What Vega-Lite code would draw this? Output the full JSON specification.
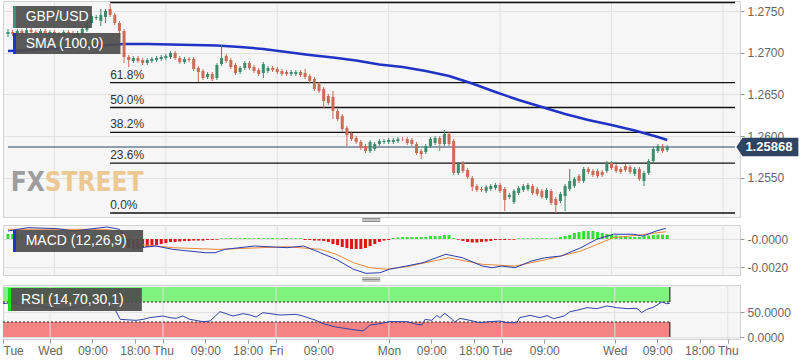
{
"$schema":"https://vega.github.io/schema/vega-lite/v6.json",
"padding":0,
"autosize":{"type":"pad"},
"background":"#ffffff",
"bounds":"flush",
"spacing":8,
"config":{"font":"Liberation Sans","view":{"stroke":"#d2d2d2","fill":"#f6f6f6"},"axis":{"labelFont":"Liberation Sans","labelFontSize":12,"labelColor":"#666666","tickColor":"#9a9a9a","domain":false,"gridColor":"#e1e1e1"}},
"datasets":{
"candles":[
{"t":-10,"o":1.27224,"h":1.27284,"l":1.27188,"c":1.27248,"m":0.00036},
{"t":-9,"o":1.27248,"h":1.27272,"l":1.272,"c":1.27224,"m":0.00036},
{"t":-8,"o":1.27224,"h":1.27284,"l":1.272,"c":1.2726,"m":0.00036},
{"t":-7,"o":1.2726,"h":1.27284,"l":1.27212,"c":1.27236,"m":0.00029},
{"t":-6,"o":1.27236,"h":1.27296,"l":1.27212,"c":1.27272,"m":0.00021},
{"t":-5,"o":1.27272,"h":1.27296,"l":1.27224,"c":1.27248,"m":0.00014},
{"t":-4,"o":1.27248,"h":1.27272,"l":1.272,"c":1.27224,"m":0.00014},
{"t":-3,"o":1.27224,"h":1.27284,"l":1.272,"c":1.2726,"m":0.00007},
{"t":-2,"o":1.2726,"h":1.27284,"l":1.27212,"c":1.27236,"m":0.00007},
{"t":-1,"o":1.27236,"h":1.27272,"l":1.27212,"c":1.27248,"m":0.00007},
{"t":0,"o":1.27248,"h":1.27272,"l":1.272,"c":1.27224,"m":0.00007},
{"t":1,"o":1.27224,"h":1.27248,"l":1.27188,"c":1.27212,"m":0.00004},
{"t":2,"o":1.27212,"h":1.27272,"l":1.27188,"c":1.27248,"m":0.00004},
{"t":3,"o":1.27248,"h":1.27272,"l":1.27212,"c":1.27236,"m":0.00004},
{"t":4,"o":1.27236,"h":1.2726,"l":1.27176,"c":1.272,"m":0.00004},
{"t":5,"o":1.272,"h":1.2726,"l":1.27176,"c":1.27236,"m":0.00007},
{"t":6,"o":1.27224,"h":1.27308,"l":1.272,"c":1.27284,"m":0.00014},
{"t":7,"o":1.27272,"h":1.2738,"l":1.27248,"c":1.27356,"m":0.00021},
{"t":8,"o":1.27356,"h":1.27464,"l":1.27332,"c":1.2744,"m":0.00029},
{"t":9,"o":1.27416,"h":1.27452,"l":1.27392,"c":1.27428,"m":0.00036},
{"t":10,"o":1.2738,"h":1.27524,"l":1.2732,"c":1.27452,"m":0.00036},
{"t":11,"o":1.27428,"h":1.27524,"l":1.27356,"c":1.275,"m":0.00036},
{"t":12,"o":1.27524,"h":1.27584,"l":1.27428,"c":1.27452,"m":0.00029},
{"t":13,"o":1.27452,"h":1.27476,"l":1.27332,"c":1.27356,"m":0.00014},
{"t":14,"o":1.27356,"h":1.2738,"l":1.27188,"c":1.2726,"m":-0.00007},
{"t":15,"o":1.2726,"h":1.27284,"l":1.26876,"c":1.26948,"m":-0.00043},
{"t":16,"o":1.26948,"h":1.26972,"l":1.26828,"c":1.26912,"m":-0.00064},
{"t":17,"o":1.269,"h":1.2696,"l":1.26876,"c":1.26936,"m":-0.00071},
{"t":18,"o":1.26936,"h":1.2696,"l":1.26876,"c":1.269,"m":-0.00071},
{"t":19,"o":1.26912,"h":1.26936,"l":1.26852,"c":1.26876,"m":-0.00064},
{"t":20,"o":1.26876,"h":1.26936,"l":1.26852,"c":1.26912,"m":-0.00057},
{"t":21,"o":1.269,"h":1.26948,"l":1.26876,"c":1.26924,"m":-0.0005},
{"t":22,"o":1.26912,"h":1.2696,"l":1.26888,"c":1.26936,"m":-0.00043},
{"t":23,"o":1.26924,"h":1.26972,"l":1.269,"c":1.26948,"m":-0.00036},
{"t":24,"o":1.26936,"h":1.26984,"l":1.26912,"c":1.2696,"m":-0.00029},
{"t":25,"o":1.26948,"h":1.2702,"l":1.26924,"c":1.26996,"m":-0.00021},
{"t":26,"o":1.26996,"h":1.2702,"l":1.26912,"c":1.26936,"m":-0.00021},
{"t":27,"o":1.26936,"h":1.2696,"l":1.26864,"c":1.26888,"m":-0.00018},
{"t":28,"o":1.26888,"h":1.26948,"l":1.26864,"c":1.26924,"m":-0.00014},
{"t":29,"o":1.26924,"h":1.26948,"l":1.26888,"c":1.26912,"m":-0.00014},
{"t":30,"o":1.26924,"h":1.26948,"l":1.2678,"c":1.26804,"m":-0.00011},
{"t":31,"o":1.26816,"h":1.2684,"l":1.26648,"c":1.26768,"m":-0.00011},
{"t":32,"o":1.2678,"h":1.26804,"l":1.26672,"c":1.26696,"m":-0.00011},
{"t":33,"o":1.26708,"h":1.26768,"l":1.26684,"c":1.26744,"m":-0.00007},
{"t":34,"o":1.26744,"h":1.26768,"l":1.2666,"c":1.26684,"m":-0.00007},
{"t":35,"o":1.26696,"h":1.26876,"l":1.26672,"c":1.26852,"m":-0.00005},
{"t":36,"o":1.26864,"h":1.27092,"l":1.2684,"c":1.26936,"m":0.00005},
{"t":37,"o":1.2696,"h":1.26984,"l":1.26876,"c":1.269,"m":0.00005},
{"t":38,"o":1.26912,"h":1.26936,"l":1.26804,"c":1.26828,"m":0.00007},
{"t":39,"o":1.26852,"h":1.26876,"l":1.26732,"c":1.26756,"m":0.00005},
{"t":40,"o":1.26768,"h":1.2684,"l":1.26744,"c":1.26816,"m":0.00005},
{"t":41,"o":1.26816,"h":1.269,"l":1.26792,"c":1.26876,"m":0.00007},
{"t":42,"o":1.26876,"h":1.269,"l":1.26792,"c":1.26816,"m":0.00005},
{"t":43,"o":1.26828,"h":1.26852,"l":1.26756,"c":1.2678,"m":0.00005},
{"t":44,"o":1.26792,"h":1.26816,"l":1.2672,"c":1.26744,"m":0.00007},
{"t":45,"o":1.26756,"h":1.26888,"l":1.26696,"c":1.26864,"m":0.00005},
{"t":46,"o":1.2678,"h":1.2684,"l":1.26756,"c":1.26816,"m":0.00005},
{"t":47,"o":1.26816,"h":1.2684,"l":1.26768,"c":1.26792,"m":0.00007},
{"t":48,"o":1.26804,"h":1.26828,"l":1.26744,"c":1.26768,"m":0.00005},
{"t":49,"o":1.2678,"h":1.26804,"l":1.2672,"c":1.26744,"m":0.00005},
{"t":50,"o":1.26768,"h":1.26792,"l":1.2672,"c":1.26744,"m":0.00007},
{"t":51,"o":1.26744,"h":1.26792,"l":1.2672,"c":1.26768,"m":0.00005},
{"t":52,"o":1.26744,"h":1.26792,"l":1.2672,"c":1.26768,"m":0.00005},
{"t":53,"o":1.26768,"h":1.26792,"l":1.26708,"c":1.26732,"m":0.00005},
{"t":54,"o":1.26756,"h":1.26804,"l":1.26684,"c":1.26708,"m":-0.00007},
{"t":55,"o":1.2672,"h":1.26744,"l":1.26636,"c":1.2666,"m":-0.00007},
{"t":56,"o":1.26684,"h":1.26708,"l":1.2654,"c":1.26564,"m":-0.00011},
{"t":57,"o":1.26624,"h":1.26648,"l":1.26516,"c":1.2654,"m":-0.00011},
{"t":58,"o":1.26564,"h":1.26588,"l":1.26336,"c":1.2642,"m":-0.00014},
{"t":59,"o":1.2648,"h":1.26504,"l":1.26372,"c":1.26396,"m":-0.00021},
{"t":60,"o":1.26468,"h":1.2654,"l":1.26204,"c":1.263,"m":-0.00036},
{"t":61,"o":1.263,"h":1.26324,"l":1.2618,"c":1.26204,"m":-0.00043},
{"t":62,"o":1.2624,"h":1.26264,"l":1.2606,"c":1.26084,"m":-0.00057},
{"t":63,"o":1.26096,"h":1.2612,"l":1.2588,"c":1.26012,"m":-0.00064},
{"t":64,"o":1.26036,"h":1.2606,"l":1.2594,"c":1.25964,"m":-0.00071},
{"t":65,"o":1.25976,"h":1.26,"l":1.25904,"c":1.25928,"m":-0.00071},
{"t":66,"o":1.25928,"h":1.25952,"l":1.25832,"c":1.25856,"m":-0.00071},
{"t":67,"o":1.2588,"h":1.25904,"l":1.25796,"c":1.2582,"m":-0.00064},
{"t":68,"o":1.2582,"h":1.25952,"l":1.25796,"c":1.25928,"m":-0.0005},
{"t":69,"o":1.25844,"h":1.25928,"l":1.2582,"c":1.25904,"m":-0.00036},
{"t":70,"o":1.25904,"h":1.25964,"l":1.2588,"c":1.2594,"m":-0.00021},
{"t":71,"o":1.25928,"h":1.25964,"l":1.25904,"c":1.2594,"m":-0.00011},
{"t":72,"o":1.25928,"h":1.25976,"l":1.25904,"c":1.25952,"m":-0.00007},
{"t":73,"o":1.25928,"h":1.25976,"l":1.25904,"c":1.25952,"m":0.00007},
{"t":74,"o":1.2594,"h":1.25988,"l":1.25916,"c":1.25964,"m":0.00011},
{"t":75,"o":1.25964,"h":1.25988,"l":1.2594,"c":1.2596,"m":0.00014},
{"t":76,"o":1.25964,"h":1.25988,"l":1.25892,"c":1.25916,"m":0.00014},
{"t":77,"o":1.25952,"h":1.25976,"l":1.2588,"c":1.25904,"m":0.00014},
{"t":78,"o":1.25904,"h":1.25928,"l":1.25772,"c":1.25796,"m":0.00014},
{"t":79,"o":1.2582,"h":1.25844,"l":1.25724,"c":1.25784,"m":0.00014},
{"t":80,"o":1.25808,"h":1.25904,"l":1.25784,"c":1.2588,"m":0.00014},
{"t":81,"o":1.2588,"h":1.25988,"l":1.25856,"c":1.25964,"m":0.00021},
{"t":82,"o":1.25916,"h":1.26,"l":1.25892,"c":1.25976,"m":0.00021},
{"t":83,"o":1.25976,"h":1.26,"l":1.2582,"c":1.25904,"m":0.00021},
{"t":84,"o":1.25904,"h":1.26072,"l":1.2588,"c":1.26024,"m":0.00029},
{"t":85,"o":1.26024,"h":1.26048,"l":1.2588,"c":1.25904,"m":0.00029},
{"t":86,"o":1.2594,"h":1.25964,"l":1.25532,"c":1.25556,"m":0.00007},
{"t":87,"o":1.25556,"h":1.25688,"l":1.25532,"c":1.25664,"m":-0.00005},
{"t":88,"o":1.25676,"h":1.257,"l":1.25556,"c":1.2558,"m":-0.00014},
{"t":89,"o":1.25592,"h":1.25616,"l":1.25484,"c":1.25508,"m":-0.00021},
{"t":90,"o":1.25496,"h":1.2552,"l":1.2534,"c":1.25388,"m":-0.00025},
{"t":91,"o":1.254,"h":1.25424,"l":1.25328,"c":1.25352,"m":-0.00025},
{"t":92,"o":1.25364,"h":1.25388,"l":1.25328,"c":1.25352,"m":-0.00021},
{"t":93,"o":1.2534,"h":1.25412,"l":1.25316,"c":1.25388,"m":-0.00018},
{"t":94,"o":1.25364,"h":1.25424,"l":1.2534,"c":1.254,"m":-0.00014},
{"t":95,"o":1.25376,"h":1.25436,"l":1.25352,"c":1.25412,"m":-0.00007},
{"t":96,"o":1.25412,"h":1.25436,"l":1.25316,"c":1.2534,"m":-0.00007},
{"t":97,"o":1.25364,"h":1.25388,"l":1.251,"c":1.25232,"m":-0.00007},
{"t":98,"o":1.25268,"h":1.25316,"l":1.25244,"c":1.25292,"m":-0.00005},
{"t":99,"o":1.25208,"h":1.25364,"l":1.25184,"c":1.2534,"m":-0.00005},
{"t":100,"o":1.25316,"h":1.254,"l":1.25292,"c":1.25376,"m":0.00005},
{"t":101,"o":1.25352,"h":1.25424,"l":1.25328,"c":1.254,"m":0.00005},
{"t":102,"o":1.25364,"h":1.25436,"l":1.2534,"c":1.25412,"m":0.00005},
{"t":103,"o":1.254,"h":1.25424,"l":1.25292,"c":1.25316,"m":0.00005},
{"t":104,"o":1.25364,"h":1.25388,"l":1.2528,"c":1.25304,"m":0.00005},
{"t":105,"o":1.2534,"h":1.25364,"l":1.25244,"c":1.25268,"m":0.00005},
{"t":106,"o":1.25256,"h":1.25376,"l":1.25232,"c":1.25352,"m":0.00005},
{"t":107,"o":1.2534,"h":1.25364,"l":1.25172,"c":1.25196,"m":0.00005},
{"t":108,"o":1.25244,"h":1.25268,"l":1.25076,"c":1.25172,"m":0.00005},
{"t":109,"o":1.2522,"h":1.25328,"l":1.25196,"c":1.25304,"m":0.00014},
{"t":110,"o":1.2528,"h":1.25424,"l":1.251,"c":1.254,"m":0.00021},
{"t":111,"o":1.25364,"h":1.25604,"l":1.2534,"c":1.2546,"m":0.00029},
{"t":112,"o":1.254,"h":1.25508,"l":1.25376,"c":1.25484,"m":0.00043},
{"t":113,"o":1.2552,"h":1.25544,"l":1.25436,"c":1.2546,"m":0.0005},
{"t":114,"o":1.2546,"h":1.25628,"l":1.25436,"c":1.25604,"m":0.00057},
{"t":115,"o":1.25604,"h":1.25628,"l":1.25544,"c":1.25568,"m":0.00057},
{"t":116,"o":1.2558,"h":1.25604,"l":1.25508,"c":1.25532,"m":0.00057},
{"t":117,"o":1.2558,"h":1.25604,"l":1.25496,"c":1.2552,"m":0.0005},
{"t":118,"o":1.25568,"h":1.25592,"l":1.25508,"c":1.25532,"m":0.00043},
{"t":119,"o":1.2558,"h":1.257,"l":1.25556,"c":1.25676,"m":0.00036},
{"t":120,"o":1.25676,"h":1.257,"l":1.25592,"c":1.25616,"m":0.00029},
{"t":121,"o":1.2564,"h":1.25664,"l":1.25556,"c":1.2558,"m":0.00025},
{"t":122,"o":1.25604,"h":1.25628,"l":1.25544,"c":1.25568,"m":0.00021},
{"t":123,"o":1.2564,"h":1.25664,"l":1.25568,"c":1.25592,"m":0.00018},
{"t":124,"o":1.25628,"h":1.25652,"l":1.25544,"c":1.25568,"m":0.00014},
{"t":125,"o":1.25544,"h":1.25628,"l":1.2552,"c":1.25604,"m":0.00014},
{"t":126,"o":1.25604,"h":1.25628,"l":1.2546,"c":1.25484,"m":0.00014},
{"t":127,"o":1.2546,"h":1.2558,"l":1.254,"c":1.25556,"m":0.00021},
{"t":128,"o":1.25556,"h":1.25724,"l":1.25532,"c":1.257,"m":0.00025},
{"t":129,"o":1.257,"h":1.25868,"l":1.25676,"c":1.25844,"m":0.00029},
{"t":130,"o":1.2582,"h":1.25904,"l":1.25796,"c":1.2588,"m":0.00032},
{"t":131,"o":1.2588,"h":1.25904,"l":1.25796,"c":1.2582,"m":0.00032},
{"t":132,"o":1.25832,"h":1.25892,"l":1.25808,"c":1.25868,"m":0.00029}
],
"sma":[
{"t":-10,"v":1.2702},{"t":-5,"v":1.27032},{"t":0,"v":1.2705},{"t":5,"v":1.27068},{"t":10,"v":1.27086},{"t":15,"v":1.27104},{"t":20,"v":1.27104},{"t":25,"v":1.27098},{"t":30,"v":1.27092},{"t":35,"v":1.27086},{"t":40,"v":1.27068},{"t":45,"v":1.27044},{"t":50,"v":1.27008},{"t":55,"v":1.26972},{"t":60,"v":1.26942},{"t":65,"v":1.26906},{"t":70,"v":1.26858},{"t":75,"v":1.26828},{"t":80,"v":1.2678},{"t":85,"v":1.2672},{"t":90,"v":1.2663},{"t":95,"v":1.26528},{"t":100,"v":1.26432},{"t":105,"v":1.26348},{"t":110,"v":1.26264},{"t":115,"v":1.26192},{"t":120,"v":1.26132},{"t":125,"v":1.26066},{"t":130,"v":1.25988},{"t":132,"v":1.25952}
],
"macd":[
{"t":-10,"v":0.00057},{"t":-5.7,"v":0.00081},{"t":0.6,"v":0.00074},{"t":4.2,"v":0.00057},{"t":11.3,"v":0.00086},{"t":14,"v":0.00069},{"t":15.5,"v":-0.00002},{"t":18.3,"v":-0.00062},{"t":21.9,"v":-0.0005},{"t":25.5,"v":-0.00074},{"t":32.5,"v":-0.00098},{"t":34.6,"v":-0.00098},{"t":36.7,"v":-0.00074},{"t":43.1,"v":-0.0005},{"t":50.1,"v":-0.00062},{"t":53.7,"v":-0.0005},{"t":57.3,"v":-0.00098},{"t":60.7,"v":-0.00145},{"t":64.4,"v":-0.00216},{"t":67.1,"v":-0.00245},{"t":70.1,"v":-0.00241},{"t":72.2,"v":-0.00216},{"t":75.8,"v":-0.00193},{"t":79.4,"v":-0.00169},{"t":84.3,"v":-0.00109},{"t":87.9,"v":-0.00134},{"t":92.2,"v":-0.00193},{"t":94.3,"v":-0.00205},{"t":96.4,"v":-0.00193},{"t":99.2,"v":-0.00205},{"t":102.8,"v":-0.00157},{"t":105.6,"v":-0.00134},{"t":109.2,"v":-0.00121},{"t":113.4,"v":-0.00062},{"t":116.8,"v":-0.00002},{"t":120.4,"v":0.00034},{"t":124.7,"v":0.00034},{"t":126.8,"v":0.00021},{"t":129.6,"v":0.00057},{"t":131.7,"v":0.00076}
],
"signal":[
{"t":-10,"v":0.00069},{"t":11.3,"v":0.00069},{"t":14.9,"v":0.00045},{"t":18.3,"v":-0.00038},{"t":25.5,"v":-0.00062},{"t":35.3,"v":-0.00074},{"t":50.1,"v":-0.00055},{"t":57.3,"v":-0.00074},{"t":60.7,"v":-0.00109},{"t":64.4,"v":-0.00169},{"t":68,"v":-0.00205},{"t":71.4,"v":-0.00216},{"t":75.8,"v":-0.00198},{"t":85,"v":-0.00134},{"t":92.2,"v":-0.00181},{"t":99.2,"v":-0.00193},{"t":106.2,"v":-0.00145},{"t":113.4,"v":-0.00086},{"t":120.4,"v":0.00009},{"t":125.3,"v":0.00026},{"t":131.7,"v":0.00052}
],
"rsi":[
{"t":-10,"v":66.7},{"t":-7.9,"v":68.7},{"t":-5.7,"v":62},{"t":-3,"v":62},{"t":0.6,"v":57.3},{"t":2.8,"v":55.3},{"t":6.4,"v":62},{"t":10.6,"v":68.7},{"t":12.7,"v":62},{"t":14,"v":52},{"t":14.9,"v":35.3},{"t":18.3,"v":33.3},{"t":19.8,"v":35.3},{"t":21.2,"v":38.7},{"t":24,"v":42},{"t":25.5,"v":38.7},{"t":26.8,"v":37.3},{"t":28.2,"v":42},{"t":29.7,"v":35.3},{"t":32.5,"v":30.7},{"t":34,"v":32},{"t":36.1,"v":50.7},{"t":38.9,"v":42},{"t":41,"v":46.7},{"t":42.5,"v":44},{"t":43.8,"v":40},{"t":45.2,"v":48.7},{"t":46.7,"v":46.7},{"t":48.9,"v":44},{"t":52.3,"v":45.3},{"t":53.7,"v":42},{"t":56.5,"v":33.3},{"t":58,"v":26.7},{"t":60.7,"v":20},{"t":63.5,"v":16},{"t":66.5,"v":12},{"t":68,"v":24},{"t":70.1,"v":26.7},{"t":72.2,"v":30.7},{"t":75.8,"v":30.7},{"t":78,"v":25.3},{"t":79,"v":24},{"t":79.7,"v":35.3},{"t":81.1,"v":33.3},{"t":82.2,"v":43.3},{"t":82.8,"v":38.7},{"t":83.9,"v":47.3},{"t":85,"v":38.7},{"t":86,"v":30},{"t":87.1,"v":37.3},{"t":89.2,"v":33.3},{"t":91.3,"v":28.7},{"t":93.5,"v":30.7},{"t":95.6,"v":32},{"t":97.1,"v":28.7},{"t":99.2,"v":28.7},{"t":99.8,"v":38.7},{"t":102,"v":43.3},{"t":104.1,"v":38.7},{"t":105.6,"v":42.7},{"t":107,"v":36.7},{"t":109.2,"v":42},{"t":110.5,"v":50.7},{"t":111.9,"v":53.3},{"t":114.1,"v":58.7},{"t":116.2,"v":56.7},{"t":118.3,"v":62},{"t":120.4,"v":58.7},{"t":122.6,"v":56.7},{"t":124.7,"v":57.3},{"t":125.7,"v":48.7},{"t":126.8,"v":55.3},{"t":128.3,"v":60},{"t":130,"v":70},{"t":131,"v":66.7},{"t":131.7,"v":67.3}
],
"days":[{"t":0},{"t":24},{"t":48},{"t":72},{"t":96},{"t":120},{"t":144}],
"fib":[
{"lbl":"","v":1.27602,"t0":12,"t1":146.6},
{"lbl":"61.8%","v":1.2664,"t0":12,"t1":146.6},
{"lbl":"50.0%","v":1.26342,"t0":12,"t1":146.6},
{"lbl":"38.2%","v":1.26044,"t0":12,"t1":146.6},
{"lbl":"23.6%","v":1.25674,"t0":12,"t1":146.6},
{"lbl":"0.0%","v":1.25076,"t0":12,"t1":146.6}
]
},
"vconcat":[
{
"width":737,"height":216,
"layer":[
{"data":{"name":"days"},"mark":{"type":"rule","color":"#e1e1e1"},"encoding":{"x":{"field":"t","type":"quantitative","scale":{"domain":[-10,146.6],"nice":false,"zero":false},"axis":null}}},
{"data":{"name":"fib"},"mark":{"type":"rule","color":"#111111","strokeWidth":1.3},"encoding":{
"x":{"field":"t0","type":"quantitative","scale":{"domain":[-10,146.6],"nice":false,"zero":false},"axis":null},
"x2":{"field":"t1"},
"y":{"field":"v","type":"quantitative","scale":{"domain":[1.25028,1.2762],"nice":false,"zero":false},"axis":{"orient":"right","values":[1.255,1.26,1.265,1.27,1.275],"format":".4f","grid":true,"tickSize":4,"labelPadding":3,"title":null}}}},
{"data":{"name":"fib"},"transform":[{"filter":"datum.lbl != ''"}],"mark":{"type":"text","align":"left","baseline":"bottom","dy":-1,"fontSize":12,"color":"#333333"},"encoding":{
"x":{"field":"t0","type":"quantitative","scale":{"domain":[-10,146.6],"nice":false,"zero":false},"axis":null},
"y":{"field":"v","type":"quantitative","scale":{"domain":[1.25028,1.2762],"nice":false,"zero":false},"axis":{"orient":"right","values":[1.255,1.26,1.265,1.27,1.275],"format":".4f","grid":true,"tickSize":4,"labelPadding":3,"title":null}},
"text":{"field":"lbl"}}},
{"data":{"values":[{"t0":-10,"t1":146.6,"v":1.25868}]},"mark":{"type":"rule","color":"#2e4460","strokeWidth":1},"encoding":{
"x":{"field":"t0","type":"quantitative","scale":{"domain":[-10,146.6],"nice":false,"zero":false},"axis":null},
"x2":{"field":"t1"},
"y":{"field":"v","type":"quantitative","scale":{"domain":[1.25028,1.2762],"nice":false,"zero":false},"axis":{"orient":"right","values":[1.255,1.26,1.265,1.27,1.275],"format":".4f","grid":true,"tickSize":4,"labelPadding":3,"title":null}}}},
{"data":{"name":"sma"},"mark":{"type":"line","color":"#1f33c4","strokeWidth":2.5},"encoding":{
"x":{"field":"t","type":"quantitative","scale":{"domain":[-10,146.6],"nice":false,"zero":false},"axis":null},
"y":{"field":"v","type":"quantitative","scale":{"domain":[1.25028,1.2762],"nice":false,"zero":false},"axis":{"orient":"right","values":[1.255,1.26,1.265,1.27,1.275],"format":".4f","grid":true,"tickSize":4,"labelPadding":3,"title":null}}}},
{"data":{"name":"candles"},"mark":{"type":"rule","strokeWidth":1},"encoding":{
"x":{"field":"t","type":"quantitative","scale":{"domain":[-10,146.6],"nice":false,"zero":false},"axis":null},
"y":{"field":"l","type":"quantitative","scale":{"domain":[1.25028,1.2762],"nice":false,"zero":false},"axis":{"orient":"right","values":[1.255,1.26,1.265,1.27,1.275],"format":".4f","grid":true,"tickSize":4,"labelPadding":3,"title":null}},
"y2":{"field":"h"},
"color":{"condition":{"test":"datum.c >= datum.o","value":"#3d8b6d"},"value":"#cb6a55"}}},
{"data":{"name":"candles"},"mark":{"type":"bar","size":3,"orient":"vertical"},"encoding":{
"x":{"field":"t","type":"quantitative","scale":{"domain":[-10,146.6],"nice":false,"zero":false},"axis":null},
"y":{"field":"o","type":"quantitative","scale":{"domain":[1.25028,1.2762],"nice":false,"zero":false},"axis":{"orient":"right","values":[1.255,1.26,1.265,1.27,1.275],"format":".4f","grid":true,"tickSize":4,"labelPadding":3,"title":null}},
"y2":{"field":"c"},
"color":{"condition":{"test":"datum.c >= datum.o","value":"#3d8b6d"},"value":"#cb6a55"}}},
{"data":{"values":[{"t0":-8.92,"t1":8.07,"v0":1.2756,"v1":1.27296},{"t0":-8.92,"t1":14.23,"v0":1.27236,"v1":1.26984}]},"mark":{"type":"rect","color":"#4d4d4d","opacity":0.93},"encoding":{
"x":{"field":"t0","type":"quantitative","scale":{"domain":[-10,146.6],"nice":false,"zero":false},"axis":null},
"x2":{"field":"t1"},
"y":{"field":"v0","type":"quantitative","scale":{"domain":[1.25028,1.2762],"nice":false,"zero":false},"axis":{"orient":"right","values":[1.255,1.26,1.265,1.27,1.275],"format":".4f","grid":true,"tickSize":4,"labelPadding":3,"title":null}},
"y2":{"field":"v1"}}},
{"data":{"values":[{"t0":-8.92,"t1":-8.28,"v0":1.2756,"v1":1.27296}]},"mark":{"type":"rect","color":"#3f9274"},"encoding":{
"x":{"field":"t0","type":"quantitative","scale":{"domain":[-10,146.6],"nice":false,"zero":false},"axis":null},
"x2":{"field":"t1"},
"y":{"field":"v0","type":"quantitative","scale":{"domain":[1.25028,1.2762],"nice":false,"zero":false},"axis":{"orient":"right","values":[1.255,1.26,1.265,1.27,1.275],"format":".4f","grid":true,"tickSize":4,"labelPadding":3,"title":null}},
"y2":{"field":"v1"}}},
{"data":{"values":[{"t0":-8.92,"t1":-8.28,"v0":1.27236,"v1":1.26984}]},"mark":{"type":"rect","color":"#1f35c8"},"encoding":{
"x":{"field":"t0","type":"quantitative","scale":{"domain":[-10,146.6],"nice":false,"zero":false},"axis":null},
"x2":{"field":"t1"},
"y":{"field":"v0","type":"quantitative","scale":{"domain":[1.25028,1.2762],"nice":false,"zero":false},"axis":{"orient":"right","values":[1.255,1.26,1.265,1.27,1.275],"format":".4f","grid":true,"tickSize":4,"labelPadding":3,"title":null}},
"y2":{"field":"v1"}}},
{"data":{"values":[{"t":-6.2,"v":1.27428,"s":"GBP/USD"},{"t":-6.2,"v":1.2711,"s":"SMA (100,0)"}]},"mark":{"type":"text","align":"left","baseline":"middle","fontSize":14,"color":"#ffffff"},"encoding":{
"x":{"field":"t","type":"quantitative","scale":{"domain":[-10,146.6],"nice":false,"zero":false},"axis":null},
"y":{"field":"v","type":"quantitative","scale":{"domain":[1.25028,1.2762],"nice":false,"zero":false},"axis":{"orient":"right","values":[1.255,1.26,1.265,1.27,1.275],"format":".4f","grid":true,"tickSize":4,"labelPadding":3,"title":null}},
"text":{"field":"s"}}},
{"data":{"values":[{"t":-2.1,"v":1.25436,"s":"FX"}]},"mark":{"type":"text","align":"right","baseline":"middle","fontSize":26,"fontWeight":"bold","font":"Liberation Sans Narrow, DejaVu Sans Condensed, sans-serif","color":"#9d9d9d"},"encoding":{
"x":{"field":"t","type":"quantitative","scale":{"domain":[-10,146.6],"nice":false,"zero":false},"axis":null},
"y":{"field":"v","type":"quantitative","scale":{"domain":[1.25028,1.2762],"nice":false,"zero":false},"axis":{"orient":"right","values":[1.255,1.26,1.265,1.27,1.275],"format":".4f","grid":true,"tickSize":4,"labelPadding":3,"title":null}},
"text":{"field":"s"}}},
{"data":{"values":[{"t":-2.1,"v":1.25436,"s":"STREET"}]},"mark":{"type":"text","align":"left","baseline":"middle","fontSize":26,"fontWeight":"bold","font":"Liberation Sans Narrow, DejaVu Sans Condensed, sans-serif","color":"#ecc893"},"encoding":{
"x":{"field":"t","type":"quantitative","scale":{"domain":[-10,146.6],"nice":false,"zero":false},"axis":null},
"y":{"field":"v","type":"quantitative","scale":{"domain":[1.25028,1.2762],"nice":false,"zero":false},"axis":{"orient":"right","values":[1.255,1.26,1.265,1.27,1.275],"format":".4f","grid":true,"tickSize":4,"labelPadding":3,"title":null}},
"text":{"field":"s"}}},
{"data":{"values":[{"t":153.57,"v":1.25868}]},"mark":{"type":"point","shape":"M -1 0 L -0.8 -0.3 L 1 -0.3 L 1 0.3 L -0.8 0.3 Z","size":3844,"filled":true,"color":"#2e4460","opacity":1,"strokeWidth":0},"encoding":{
"x":{"field":"t","type":"quantitative","scale":{"domain":[-10,146.6],"nice":false,"zero":false},"axis":null},
"y":{"field":"v","type":"quantitative","scale":{"domain":[1.25028,1.2762],"nice":false,"zero":false},"axis":{"orient":"right","values":[1.255,1.26,1.265,1.27,1.275],"format":".4f","grid":true,"tickSize":4,"labelPadding":3,"title":null}}}},
{"data":{"values":[{"t":153.9,"v":1.25868,"s":"1.25868"}]},"mark":{"type":"text","align":"center","baseline":"middle","fontSize":13,"fontWeight":"bold","color":"#ffffff"},"encoding":{
"x":{"field":"t","type":"quantitative","scale":{"domain":[-10,146.6],"nice":false,"zero":false},"axis":null},
"y":{"field":"v","type":"quantitative","scale":{"domain":[1.25028,1.2762],"nice":false,"zero":false},"axis":{"orient":"right","values":[1.255,1.26,1.265,1.27,1.275],"format":".4f","grid":true,"tickSize":4,"labelPadding":3,"title":null}},
"text":{"field":"s"}}}
]
},
{
"vconcat":[
{
"width":737,"height":50,
"layer":[
{"data":{"name":"days"},"mark":{"type":"rule","color":"#e1e1e1"},"encoding":{"x":{"field":"t","type":"quantitative","scale":{"domain":[-10,146.6],"nice":false,"zero":false},"axis":null}}},
{"data":{"name":"candles"},"mark":{"type":"bar","size":3,"orient":"vertical"},"encoding":{
"x":{"field":"t","type":"quantitative","scale":{"domain":[-10,146.6],"nice":false,"zero":false},"axis":null},
"y":{"field":"m","type":"quantitative","scale":{"domain":[-0.00257,0.001],"nice":false,"zero":false},"axis":{"orient":"right","values":[0,-0.002],"labelExpr":"datum.value == 0 ? '-0.0000' : '-0.0020'","grid":true,"tickSize":4,"labelPadding":3,"title":null}},
"y2":{"datum":0},
"color":{"condition":{"test":"datum.m >= 0","value":"#33dd33"},"value":"#e01414"}}},
{"data":{"name":"signal"},"mark":{"type":"line","color":"#e8893a","strokeWidth":1},"encoding":{
"x":{"field":"t","type":"quantitative","scale":{"domain":[-10,146.6],"nice":false,"zero":false},"axis":null},
"y":{"field":"v","type":"quantitative","scale":{"domain":[-0.00257,0.001],"nice":false,"zero":false},"axis":{"orient":"right","values":[0,-0.002],"labelExpr":"datum.value == 0 ? '-0.0000' : '-0.0020'","grid":true,"tickSize":4,"labelPadding":3,"title":null}}}},
{"data":{"name":"macd"},"mark":{"type":"line","color":"#2b3daf","strokeWidth":1},"encoding":{
"x":{"field":"t","type":"quantitative","scale":{"domain":[-10,146.6],"nice":false,"zero":false},"axis":null},
"y":{"field":"v","type":"quantitative","scale":{"domain":[-0.00257,0.001],"nice":false,"zero":false},"axis":{"orient":"right","values":[0,-0.002],"labelExpr":"datum.value == 0 ? '-0.0000' : '-0.0020'","grid":true,"tickSize":4,"labelPadding":3,"title":null}}}},
{"data":{"values":[{"t0":-8.92,"t1":19.1,"v0":0.00064,"v1":-0.00093}]},"mark":{"type":"rect","color":"#4d4d4d","opacity":0.93},"encoding":{
"x":{"field":"t0","type":"quantitative","scale":{"domain":[-10,146.6],"nice":false,"zero":false},"axis":null},
"x2":{"field":"t1"},
"y":{"field":"v0","type":"quantitative","scale":{"domain":[-0.00257,0.001],"nice":false,"zero":false},"axis":{"orient":"right","values":[0,-0.002],"labelExpr":"datum.value == 0 ? '-0.0000' : '-0.0020'","grid":true,"tickSize":4,"labelPadding":3,"title":null}},
"y2":{"field":"v1"}}},
{"data":{"values":[{"t0":-8.92,"t1":-8.28,"v0":0.00064,"v1":-0.00093}]},"mark":{"type":"rect","color":"#1f35c8"},"encoding":{
"x":{"field":"t0","type":"quantitative","scale":{"domain":[-10,146.6],"nice":false,"zero":false},"axis":null},
"x2":{"field":"t1"},
"y":{"field":"v0","type":"quantitative","scale":{"domain":[-0.00257,0.001],"nice":false,"zero":false},"axis":{"orient":"right","values":[0,-0.002],"labelExpr":"datum.value == 0 ? '-0.0000' : '-0.0020'","grid":true,"tickSize":4,"labelPadding":3,"title":null}},
"y2":{"field":"v1"}}},
{"data":{"values":[{"t0":66.3,"t1":70.2,"v":0.00146},{"t0":66.3,"t1":70.2,"v":0.00136},{"t0":66.3,"t1":70.2,"v":0.00125},{"t0":66.3,"t1":70.2,"v":-0.00278},{"t0":66.3,"t1":70.2,"v":-0.00289},{"t0":66.3,"t1":70.2,"v":-0.003}]},"mark":{"type":"rule","color":"#8a8a8a","strokeWidth":1},"encoding":{
"x":{"field":"t0","type":"quantitative","scale":{"domain":[-10,146.6],"nice":false,"zero":false},"axis":null},
"x2":{"field":"t1"},
"y":{"field":"v","type":"quantitative","scale":{"domain":[-0.00257,0.001],"nice":false,"zero":false},"axis":{"orient":"right","values":[0,-0.002],"labelExpr":"datum.value == 0 ? '-0.0000' : '-0.0020'","grid":true,"tickSize":4,"labelPadding":3,"title":null}}}},
{"data":{"values":[{"t":-6.2,"v":-0.00014,"s":"MACD (12,26,9)"}]},"mark":{"type":"text","align":"left","baseline":"middle","fontSize":14,"color":"#ffffff"},"encoding":{
"x":{"field":"t","type":"quantitative","scale":{"domain":[-10,146.6],"nice":false,"zero":false},"axis":null},
"y":{"field":"v","type":"quantitative","scale":{"domain":[-0.00257,0.001],"nice":false,"zero":false},"axis":{"orient":"right","values":[0,-0.002],"labelExpr":"datum.value == 0 ? '-0.0000' : '-0.0020'","grid":true,"tickSize":4,"labelPadding":3,"title":null}},
"text":{"field":"s"}}}
]
},
{
"width":737,"height":54,
"layer":[
{"data":{"values":[{"t0":-10,"t1":131.7,"v0":70,"v1":100,"k":"ob"},{"t0":-10,"t1":131.7,"v0":0,"v1":30,"k":"os"}]},"mark":{"type":"rect"},"encoding":{
"x":{"field":"t0","type":"quantitative","scale":{"domain":[-10,146.6],"nice":false,"zero":false},"axis":{"orient":"bottom","values":[-10,0,9,18,24,33,42,48,57,72,81,90,96,105,120,129,138,144],"labelExpr":"datum.value % 24 == 9 ? '09:00' : datum.value % 24 == 18 ? '18:00' : (datum.value == 0 || datum.value == 120) ? 'Wed' : (datum.value == 24 || datum.value == 144) ? 'Thu' : datum.value == 48 ? 'Fri' : datum.value == 72 ? 'Mon' : 'Tue'","labelFlush":true,"labelOverlap":false,"grid":false,"ticks":true,"tickSize":4,"labelPadding":2,"title":null}},
"x2":{"field":"t1"},
"y":{"field":"v0","type":"quantitative","scale":{"domain":[-4,104],"nice":false,"zero":false},"axis":{"orient":"right","values":[0,50],"format":".4f","grid":true,"tickSize":4,"labelPadding":3,"title":null}},
"y2":{"field":"v1"},
"color":{"field":"k","type":"nominal","scale":{"domain":["ob","os"],"range":["#80f37f","#f58383"]},"legend":null}}},
{"data":{"name":"days"},"mark":{"type":"rule","color":"#e1e1e1"},"encoding":{"x":{"field":"t","type":"quantitative","scale":{"domain":[-10,146.6],"nice":false,"zero":false},"axis":{"orient":"bottom","values":[-10,0,9,18,24,33,42,48,57,72,81,90,96,105,120,129,138,144],"labelExpr":"datum.value % 24 == 9 ? '09:00' : datum.value % 24 == 18 ? '18:00' : (datum.value == 0 || datum.value == 120) ? 'Wed' : (datum.value == 24 || datum.value == 144) ? 'Thu' : datum.value == 48 ? 'Fri' : datum.value == 72 ? 'Mon' : 'Tue'","labelFlush":true,"labelOverlap":false,"grid":false,"ticks":true,"tickSize":4,"labelPadding":2,"title":null}}}},
{"data":{"values":[{"t0":-10,"t1":131.7,"v":70},{"t0":-10,"t1":131.7,"v":30}]},"mark":{"type":"rule","color":"#222222","strokeWidth":1,"strokeDash":[2,2]},"encoding":{
"x":{"field":"t0","type":"quantitative","scale":{"domain":[-10,146.6],"nice":false,"zero":false},"axis":{"orient":"bottom","values":[-10,0,9,18,24,33,42,48,57,72,81,90,96,105,120,129,138,144],"labelExpr":"datum.value % 24 == 9 ? '09:00' : datum.value % 24 == 18 ? '18:00' : (datum.value == 0 || datum.value == 120) ? 'Wed' : (datum.value == 24 || datum.value == 144) ? 'Thu' : datum.value == 48 ? 'Fri' : datum.value == 72 ? 'Mon' : 'Tue'","labelFlush":true,"labelOverlap":false,"grid":false,"ticks":true,"tickSize":4,"labelPadding":2,"title":null}},
"x2":{"field":"t1"},
"y":{"field":"v","type":"quantitative","scale":{"domain":[-4,104],"nice":false,"zero":false},"axis":{"orient":"right","values":[0,50],"format":".4f","grid":true,"tickSize":4,"labelPadding":3,"title":null}}}},
{"data":{"values":[{"t":131.7,"v0":70,"v1":100},{"t":131.7,"v0":0,"v1":30}]},"mark":{"type":"rule","color":"#111111","strokeWidth":1},"encoding":{
"x":{"field":"t","type":"quantitative","scale":{"domain":[-10,146.6],"nice":false,"zero":false},"axis":{"orient":"bottom","values":[-10,0,9,18,24,33,42,48,57,72,81,90,96,105,120,129,138,144],"labelExpr":"datum.value % 24 == 9 ? '09:00' : datum.value % 24 == 18 ? '18:00' : (datum.value == 0 || datum.value == 120) ? 'Wed' : (datum.value == 24 || datum.value == 144) ? 'Thu' : datum.value == 48 ? 'Fri' : datum.value == 72 ? 'Mon' : 'Tue'","labelFlush":true,"labelOverlap":false,"grid":false,"ticks":true,"tickSize":4,"labelPadding":2,"title":null}},
"y":{"field":"v0","type":"quantitative","scale":{"domain":[-4,104],"nice":false,"zero":false},"axis":{"orient":"right","values":[0,50],"format":".4f","grid":true,"tickSize":4,"labelPadding":3,"title":null}},
"y2":{"field":"v1"}}},
{"data":{"name":"rsi"},"mark":{"type":"line","color":"#3345a8","strokeWidth":1},"encoding":{
"x":{"field":"t","type":"quantitative","scale":{"domain":[-10,146.6],"nice":false,"zero":false},"axis":{"orient":"bottom","values":[-10,0,9,18,24,33,42,48,57,72,81,90,96,105,120,129,138,144],"labelExpr":"datum.value % 24 == 9 ? '09:00' : datum.value % 24 == 18 ? '18:00' : (datum.value == 0 || datum.value == 120) ? 'Wed' : (datum.value == 24 || datum.value == 144) ? 'Thu' : datum.value == 48 ? 'Fri' : datum.value == 72 ? 'Mon' : 'Tue'","labelFlush":true,"labelOverlap":false,"grid":false,"ticks":true,"tickSize":4,"labelPadding":2,"title":null}},
"y":{"field":"v","type":"quantitative","scale":{"domain":[-4,104],"nice":false,"zero":false},"axis":{"orient":"right","values":[0,50],"format":".4f","grid":true,"tickSize":4,"labelPadding":3,"title":null}}}},
{"data":{"values":[{"t0":-8.92,"t1":19.5,"v0":98,"v1":52}]},"mark":{"type":"rect","color":"#4d4d4d","opacity":0.93},"encoding":{
"x":{"field":"t0","type":"quantitative","scale":{"domain":[-10,146.6],"nice":false,"zero":false},"axis":{"orient":"bottom","values":[-10,0,9,18,24,33,42,48,57,72,81,90,96,105,120,129,138,144],"labelExpr":"datum.value % 24 == 9 ? '09:00' : datum.value % 24 == 18 ? '18:00' : (datum.value == 0 || datum.value == 120) ? 'Wed' : (datum.value == 24 || datum.value == 144) ? 'Thu' : datum.value == 48 ? 'Fri' : datum.value == 72 ? 'Mon' : 'Tue'","labelFlush":true,"labelOverlap":false,"grid":false,"ticks":true,"tickSize":4,"labelPadding":2,"title":null}},
"x2":{"field":"t1"},
"y":{"field":"v0","type":"quantitative","scale":{"domain":[-4,104],"nice":false,"zero":false},"axis":{"orient":"right","values":[0,50],"format":".4f","grid":true,"tickSize":4,"labelPadding":3,"title":null}},
"y2":{"field":"v1"}}},
{"data":{"values":[{"t0":-8.92,"t1":-8.28,"v0":98,"v1":52}]},"mark":{"type":"rect","color":"#22dd22"},"encoding":{
"x":{"field":"t0","type":"quantitative","scale":{"domain":[-10,146.6],"nice":false,"zero":false},"axis":{"orient":"bottom","values":[-10,0,9,18,24,33,42,48,57,72,81,90,96,105,120,129,138,144],"labelExpr":"datum.value % 24 == 9 ? '09:00' : datum.value % 24 == 18 ? '18:00' : (datum.value == 0 || datum.value == 120) ? 'Wed' : (datum.value == 24 || datum.value == 144) ? 'Thu' : datum.value == 48 ? 'Fri' : datum.value == 72 ? 'Mon' : 'Tue'","labelFlush":true,"labelOverlap":false,"grid":false,"ticks":true,"tickSize":4,"labelPadding":2,"title":null}},
"x2":{"field":"t1"},
"y":{"field":"v0","type":"quantitative","scale":{"domain":[-4,104],"nice":false,"zero":false},"axis":{"orient":"right","values":[0,50],"format":".4f","grid":true,"tickSize":4,"labelPadding":3,"title":null}},
"y2":{"field":"v1"}}},
{"data":{"values":[{"t":-6.2,"v":75,"s":"RSI (14,70,30,1)"}]},"mark":{"type":"text","align":"left","baseline":"middle","fontSize":14,"color":"#ffffff"},"encoding":{
"x":{"field":"t","type":"quantitative","scale":{"domain":[-10,146.6],"nice":false,"zero":false},"axis":{"orient":"bottom","values":[-10,0,9,18,24,33,42,48,57,72,81,90,96,105,120,129,138,144],"labelExpr":"datum.value % 24 == 9 ? '09:00' : datum.value % 24 == 18 ? '18:00' : (datum.value == 0 || datum.value == 120) ? 'Wed' : (datum.value == 24 || datum.value == 144) ? 'Thu' : datum.value == 48 ? 'Fri' : datum.value == 72 ? 'Mon' : 'Tue'","labelFlush":true,"labelOverlap":false,"grid":false,"ticks":true,"tickSize":4,"labelPadding":2,"title":null}},
"y":{"field":"v","type":"quantitative","scale":{"domain":[-4,104],"nice":false,"zero":false},"axis":{"orient":"right","values":[0,50],"format":".4f","grid":true,"tickSize":4,"labelPadding":3,"title":null}},
"text":{"field":"s"}}}
]
}
],
"spacing":10,
"bounds":"flush"
}
]
}
